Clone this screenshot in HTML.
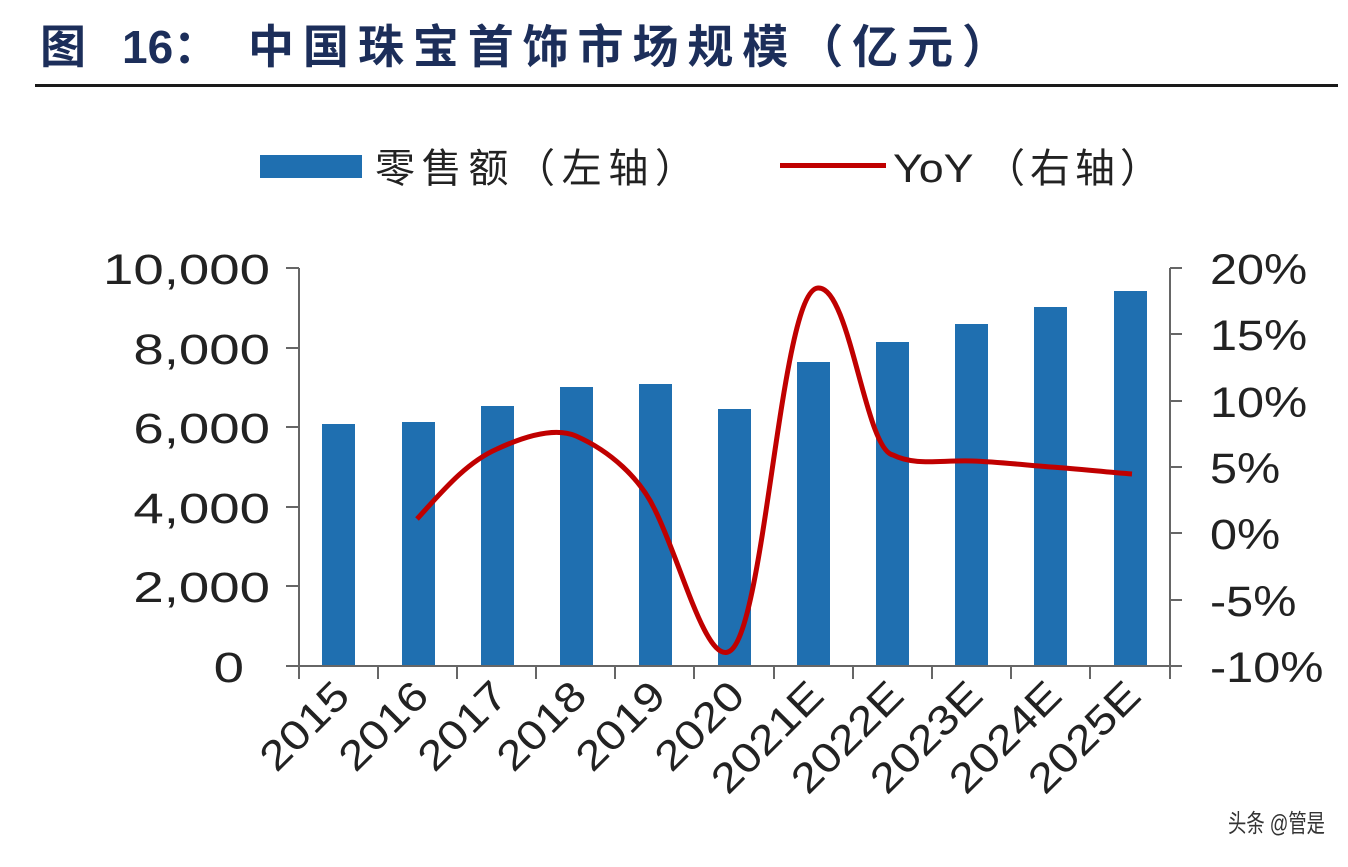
<!DOCTYPE html>
<html><head><meta charset="utf-8"><style>
html,body{margin:0;padding:0;background:#fff;}
body{width:1348px;height:862px;overflow:hidden;}
</style></head><body>
<svg width="1348" height="862" xmlns="http://www.w3.org/2000/svg" font-family="Liberation Sans, Noto Sans CJK SC, sans-serif">
<g font-size="46" font-weight="bold" fill="#1c2e5a">
<text x="40" y="63">图</text>
<text x="122" y="63">16：</text>
<text x="248" y="63" textLength="760" lengthAdjust="spacing">中国珠宝首饰市场规模（亿元）</text>
</g>
<rect x="35" y="84" width="1303" height="3" fill="#1a1a1a"/>
<rect x="260" y="155" width="102" height="23" fill="#1f6fb0"/>
<text x="375" y="182" font-size="40" fill="#222" textLength="320" lengthAdjust="spacing">零售额（左轴）</text>
<rect x="780" y="163" width="106" height="5" fill="#c00000"/>
<text transform="translate(893,182) scale(1.12,1)" font-size="40" fill="#222">YoY</text>
<text x="985" y="182" font-size="40" fill="#222" textLength="175" lengthAdjust="spacing">（右轴）</text>
<g fill="#1f6fb0">
<rect x="322" y="424" width="33" height="242"/>
<rect x="402" y="422" width="33" height="244"/>
<rect x="481" y="406" width="33" height="260"/>
<rect x="560" y="387" width="33" height="279"/>
<rect x="639" y="384" width="33" height="282"/>
<rect x="718" y="409" width="33" height="257"/>
<rect x="797" y="362" width="33" height="304"/>
<rect x="876" y="342" width="33" height="324"/>
<rect x="955" y="324" width="33" height="342"/>
<rect x="1034" y="307" width="33" height="359"/>
<rect x="1114" y="291" width="33" height="375"/>
</g>
<g stroke="#666" stroke-width="2" fill="none">
<line x1="299" y1="268" x2="299" y2="666"/>
<line x1="1170" y1="268" x2="1170" y2="666"/>
<line x1="299" y1="666" x2="1170" y2="666"/>
<path d="M286 268H299M286 348H299M286 427H299M286 507H299M286 586H299M286 666H299"/>
<path d="M1170 268H1182M1170 334H1182M1170 401H1182M1170 467H1182M1170 533H1182M1170 600H1182M1170 666H1182"/>
<path d="M299 666V679M378 666V679M457 666V679M536 666V679M615 666V679M694 666V679M774 666V679M853 666V679M932 666V679M1011 666V679M1090 666V679M1170 666V679"/>
</g>
<g font-size="43" fill="#222" text-anchor="end">
<text transform="translate(270,284) scale(1.27,1)">10,000</text>
<text transform="translate(270,364) scale(1.27,1)">8,000</text>
<text transform="translate(270,443) scale(1.27,1)">6,000</text>
<text transform="translate(270,523) scale(1.27,1)">4,000</text>
<text transform="translate(270,602) scale(1.27,1)">2,000</text>
<text transform="translate(244,682) scale(1.27,1)">0</text>
</g>
<g font-size="43" fill="#222">
<text transform="translate(1210,284) scale(1.13,1)">20%</text>
<text transform="translate(1210,350) scale(1.13,1)">15%</text>
<text transform="translate(1210,417) scale(1.13,1)">10%</text>
<text transform="translate(1210,483) scale(1.13,1)">5%</text>
<text transform="translate(1210,549) scale(1.13,1)">0%</text>
<text transform="translate(1210,616) scale(1.13,1)">-5%</text>
<text transform="translate(1210,682) scale(1.13,1)">-10%</text>
</g>
<g font-size="41" fill="#222" text-anchor="end">
<text transform="translate(352,698) rotate(-45) scale(1.17,1)">2015</text>
<text transform="translate(431,698) rotate(-45) scale(1.17,1)">2016</text>
<text transform="translate(510,698) rotate(-45) scale(1.17,1)">2017</text>
<text transform="translate(589,698) rotate(-45) scale(1.17,1)">2018</text>
<text transform="translate(668,698) rotate(-45) scale(1.17,1)">2019</text>
<text transform="translate(747,698) rotate(-45) scale(1.17,1)">2020</text>
<text transform="translate(826,698) rotate(-45) scale(1.17,1)">2021E</text>
<text transform="translate(906,698) rotate(-45) scale(1.17,1)">2022E</text>
<text transform="translate(985,698) rotate(-45) scale(1.17,1)">2023E</text>
<text transform="translate(1064,698) rotate(-45) scale(1.17,1)">2024E</text>
<text transform="translate(1143,698) rotate(-45) scale(1.17,1)">2025E</text>
</g>
<path d="M417 519 C440 494,465 463,497 449 C525 436,555 427,576 436 C610 451,640 478,655 510 C680 560,705 660,728 652 C765 640,780 290,818 288 C850 286,865 450,893 455 C915 466,940 460,972 461 C1000 462,1025 465,1051 467 C1080 469,1105 472,1132 474" stroke="#c00000" stroke-width="5" fill="none"/>
<text x="1228" y="832" font-size="25" fill="#333" textLength="97" lengthAdjust="spacingAndGlyphs">头条 @管是</text>
</svg>
</body></html>
